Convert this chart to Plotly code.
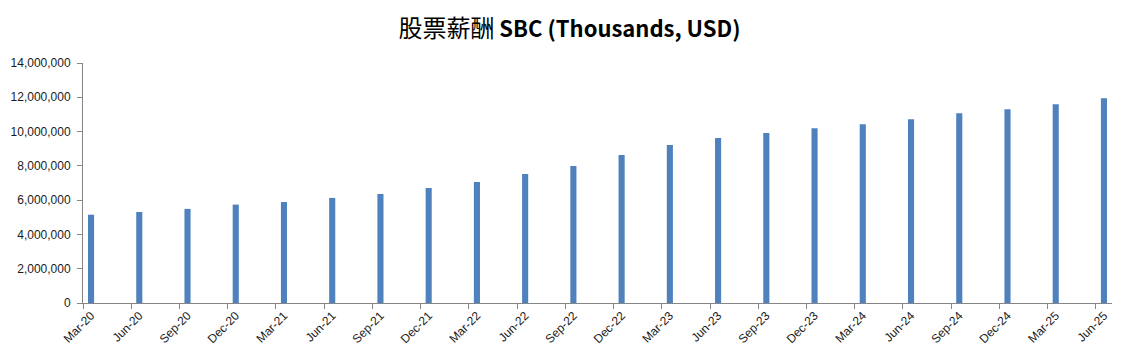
import plotly.graph_objects as go

quarters = ["Mar-20", "Jun-20", "Sep-20", "Dec-20", "Mar-21", "Jun-21", "Sep-21", "Dec-21",
            "Mar-22", "Jun-22", "Sep-22", "Dec-22", "Mar-23", "Jun-23", "Sep-23", "Dec-23",
            "Mar-24", "Jun-24", "Sep-24", "Dec-24", "Mar-25", "Jun-25"]
sbc = [5150000, 5310000, 5490000, 5740000, 5890000, 6130000, 6360000, 6710000,
       7060000, 7520000, 7990000, 8630000, 9210000, 9620000, 9910000, 10200000,
       10430000, 10720000, 11070000, 11300000, 11590000, 11940000]
y_ticks = [0, 2000000, 4000000, 6000000, 8000000, 10000000, 12000000, 14000000]

# date-style axis: one unit per month, quarters every 3 months, bar centred in its month
month_pos = [3 * i + 0.5 for i in range(len(quarters))]
boundary_pos = [3 * i for i in range(len(quarters))]
n_months = 3 * (len(quarters) - 1) + 1

fig = go.Figure()
fig.add_trace(go.Bar(x=month_pos, y=sbc, width=0.38, marker=dict(color="#4F81BD", line=dict(width=0))))

fig.update_layout(
    width=1123, height=357,
    margin=dict(l=75, r=19, t=55, b=62),
    paper_bgcolor="white", plot_bgcolor="white",
    showlegend=False,
    title=dict(text='<span style="font-size:24px">股票薪酬</span> <b>SBC (Thousands, USD)</b>',
               x=0.5, xanchor="center", xref="container", y=0.94, yanchor="middle",
               font=dict(family="Noto Sans CJK SC, Open Sans", size=22, color="black")),
    font=dict(family="Liberation Sans, Arial", size=12, color="#1a1a1a"),
)
fig.update_xaxes(
    range=[0, n_months], tickmode="array", tickvals=month_pos, ticktext=quarters,
    tickangle=-45, ticks="",
    minor=dict(tickmode="array", tickvals=boundary_pos, ticks="outside", ticklen=5,
               tickcolor="#868686", showgrid=False),
    showline=True, linecolor="#868686", linewidth=1, showgrid=False, zeroline=False,
    tickfont=dict(size=12), automargin=False,
)
fig.update_yaxes(
    range=[0, 14000000], tickmode="array", tickvals=y_ticks,
    ticktext=[f"{v:,}" for v in y_ticks],
    ticks="outside", ticklen=5, tickcolor="#868686", ticklabelstandoff=4,
    showline=True, linecolor="#868686", linewidth=1, showgrid=False, zeroline=False,
    tickfont=dict(size=12), automargin=False,
)

fig.write_html("out.html")
